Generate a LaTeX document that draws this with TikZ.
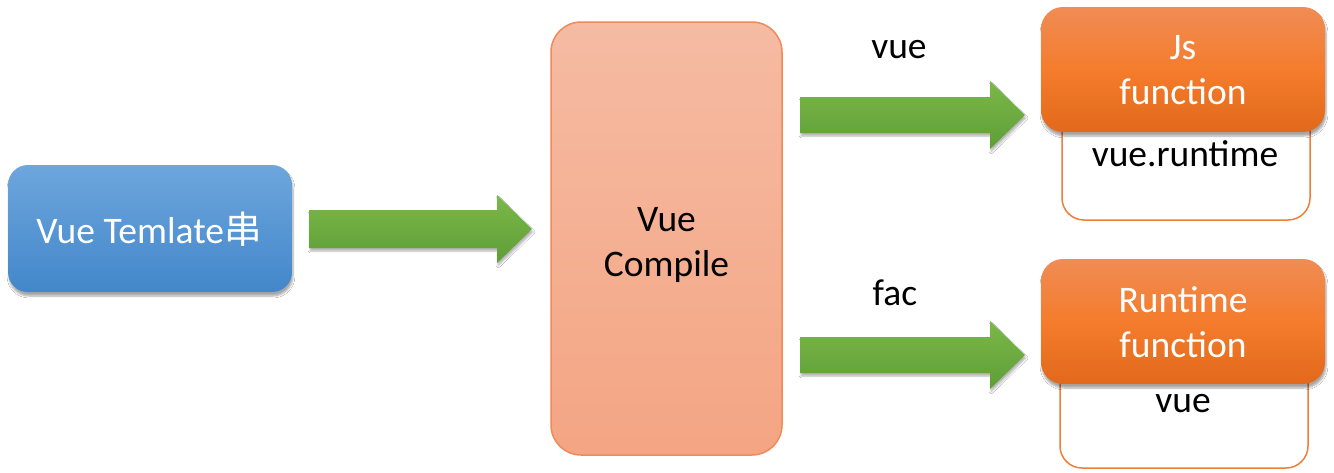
\documentclass[tikz,border=0pt]{standalone}
\usepackage{fontspec}
\setmainfont{Carlito}
\newfontfamily\cjk{Noto Sans CJK SC}
\usetikzlibrary{shadows.blur}
\definecolor{blueT}{HTML}{6EA6DD}
\definecolor{blueB}{HTML}{4287CA}
\definecolor{greenT}{HTML}{7BB84A}
\definecolor{greenB}{HTML}{5E9E36}
\definecolor{salT}{HTML}{F5BBA3}
\definecolor{salB}{HTML}{F4A583}
\definecolor{salD}{HTML}{F08A58}
\definecolor{orT}{HTML}{F08C55}
\definecolor{orM}{HTML}{F47C2C}
\definecolor{orB}{HTML}{E2691B}
\definecolor{orLine}{HTML}{EE7F3A}
\tikzset{
  txt/.style={font=\fontsize{37.5}{45.5}\selectfont, align=center, inner sep=0pt},
  bluebox/.style={rounded corners=20pt, top color=blueT, bottom color=blueB, draw=none,
     blur shadow={shadow xshift=1pt, shadow yshift=-4pt, shadow blur steps=6, shadow opacity=35}},
  compbox/.style={rounded corners=30pt, top color=salT, bottom color=salB, draw=salD, line width=1.5pt},
  orbox/.style={rounded corners=22pt, top color=orT, bottom color=orB, middle color=orM, draw=none,
     blur shadow={shadow xshift=1pt, shadow yshift=-4pt, shadow blur steps=6, shadow opacity=35}},
  whitebox/.style={rounded corners=22pt, fill=white, draw=orLine, line width=1.5pt},
  greenarrow/.style={top color=greenT, bottom color=greenB, draw=none,
     blur shadow={shadow xshift=1pt, shadow yshift=-3pt, shadow blur steps=5, shadow opacity=30}},
}
\begin{document}
\begin{tikzpicture}[x=1pt,y=-1pt]
\path[fill=white] (0,0) rectangle (1334,472);
\useasboundingbox (0,0) rectangle (1334,472);

% left box
\path[bluebox] (8,165) rectangle (292,292);
\node[txt, text=white] (tmpl) at (149,229) {Vue Temlate{\cjk 串}};

% central compile box
\path[compbox] (551,22) rectangle (782,455);
\node[txt] (comp) at (666.5,245) {Vue\\Compile};

% arrows
\path[greenarrow] (309,210) -- (497,210) -- (497,195) -- (532,229) -- (497,263) -- (497,248) -- (309,248) -- cycle;
\path[greenarrow] (800,97) -- (990,97) -- (990,81) -- (1025,115) -- (990,149) -- (990,133) -- (800,133) -- cycle;
\path[greenarrow] (800,337) -- (990,337) -- (990,321) -- (1025,355) -- (990,389) -- (990,373) -- (800,373) -- cycle;

\node[txt] (lvue) at (899,50) {vue};
\node[txt] (lfac) at (895,293) {fac};

% top right
\path[whitebox] (1062,95) rectangle (1310,220);
\path[orbox] (1041,7) rectangle (1325,132);
\node[txt, text=white] (js) at (1183,70) {Js\\function};
\node[txt] (vrt) at (1185,154) {vue.runtime};

% bottom right
\path[whitebox] (1060,345) rectangle (1308,468);
\path[orbox] (1041,259) rectangle (1325,384);
\node[txt, text=white] (rt) at (1183,322) {Runtime\\function};
\node[txt] (vue2) at (1183,404) {vue};
\end{tikzpicture}
\end{document}
